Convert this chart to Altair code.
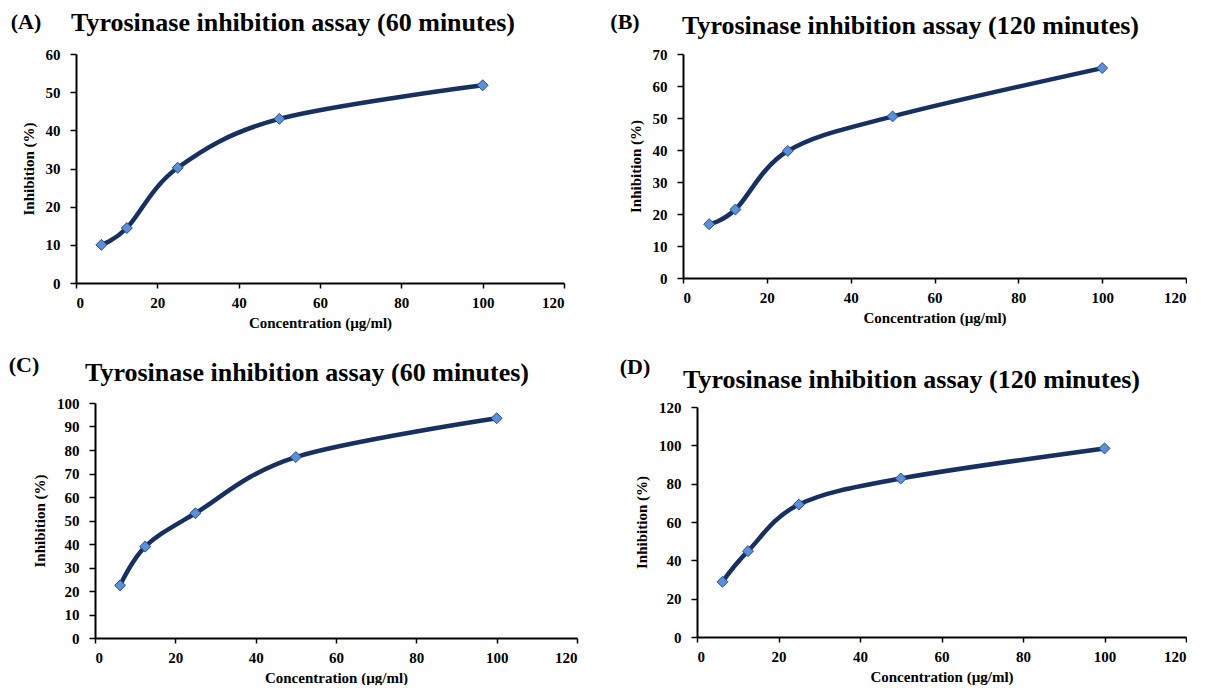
import altair as alt
import pandas as pd

conc = [6.25, 12.5, 25, 50, 100]
inh_A = [10.0, 14.4, 30.2, 43.0, 51.8]
inh_B = [16.8, 21.4, 39.7, 50.5, 65.6]
inh_C = [22.4, 38.9, 53.1, 77.0, 93.5]
inh_D = [28.8, 44.8, 69.1, 82.7, 98.4]

labels = ["(A)", "(B)", "(C)", "(D)"]
titles = [
    "Tyrosinase inhibition assay (60 minutes)",
    "Tyrosinase inhibition assay (120 minutes)",
    "Tyrosinase inhibition assay (60 minutes)",
    "Tyrosinase inhibition assay (120 minutes)",
]
x_ticks = [0, 20, 40, 60, 80, 100, 120]
y_ticks_A = [0, 10, 20, 30, 40, 50, 60]
y_ticks_B = [0, 10, 20, 30, 40, 50, 60, 70]
y_ticks_C = [0, 10, 20, 30, 40, 50, 60, 70, 80, 90, 100]
y_ticks_D = [0, 20, 40, 60, 80, 100, 120]

FONT = "Liberation Serif"
COL_W = [501, 503]
ROW_H = [229, 235]


def panel(vals, label, title, yticks, w, h, xr, yr, tx, ty, lx, ly):
    # xr/yr: pixel ranges of the axes inside the panel's cell
    df = pd.DataFrame({"Concentration": conc, "Inhibition": vals})
    x = alt.X(
        "Concentration:Q",
        scale=alt.Scale(domain=[0, 120], nice=False, range=xr),
        axis=alt.Axis(values=x_ticks, title="Concentration (µg/ml)",
                      offset=-(h - yr[0])),
    )
    y = alt.Y(
        "Inhibition:Q",
        scale=alt.Scale(domain=[0, max(yticks)], nice=False, range=yr),
        axis=alt.Axis(values=yticks, title="Inhibition (%)", offset=-xr[0]),
    )
    base = alt.Chart(df)
    line = base.mark_line(
        interpolate="cardinal", color="#17305F", strokeWidth=4.5
    ).encode(x=x, y=y)
    pts = base.mark_point(
        shape="diamond", filled=True, size=120, fill="#5B90D8",
        stroke="#2A4A8A", strokeWidth=1, opacity=1
    ).encode(x=x, y=y)
    lab = alt.Chart(pd.DataFrame({"t": [label]})).mark_text(
        font=FONT, fontSize=22, fontWeight="bold", align="center",
        baseline="middle", color="black"
    ).encode(text="t:N", x=alt.value(lx), y=alt.value(ly))
    ttl = alt.Chart(pd.DataFrame({"t": [title]})).mark_text(
        font=FONT, fontSize=26, fontWeight="bold", align="left",
        baseline="middle", color="black"
    ).encode(text="t:N", x=alt.value(tx), y=alt.value(ty))
    return alt.layer(line, pts, lab, ttl).properties(width=w, height=h)


pA = panel(inh_A, labels[0], titles[0], y_ticks_A, COL_W[0], ROW_H[0],
           [0, 488], [229, 0], -5, -31, -50, -32)
pB = panel(inh_B, labels[1], titles[1], y_ticks_B, COL_W[1], ROW_H[0],
           [0, 503], [224, 0], -1, -28, -58, -32)
pC = panel(inh_C, labels[2], titles[2], y_ticks_C, COL_W[0], ROW_H[1],
           [19, 501], [235, 0], 9, -30, -52, -38)
pD = panel(inh_D, labels[3], titles[3], y_ticks_D, COL_W[1], ROW_H[1],
           [14, 503], [234, 4], 0, -23, -48, -36)

chart = alt.concat(
    pA, pB, pC, pD,
    columns=2,
    bounds="flush",
    spacing={"row": 120, "column": 106},
).properties(
    padding={"left": 0, "top": 2, "right": 0, "bottom": 0}
).configure(background="white").configure_view(
    stroke=None
).configure_axis(
    labelFont=FONT, labelFontSize=15, labelFontWeight="bold", labelColor="black",
    titleFont=FONT, titleFontSize=15, titleFontWeight="bold", titleColor="black",
    domainColor="black", domainWidth=2, tickColor="black", tickWidth=1.5,
    grid=False,
).configure_axisX(tickSize=5, labelPadding=7, titlePadding=5).configure_axisY(
    tickSize=6, labelPadding=10, titlePadding=9
)

chart.save("out.html", embed_options={"renderer": "svg", "actions": False})
